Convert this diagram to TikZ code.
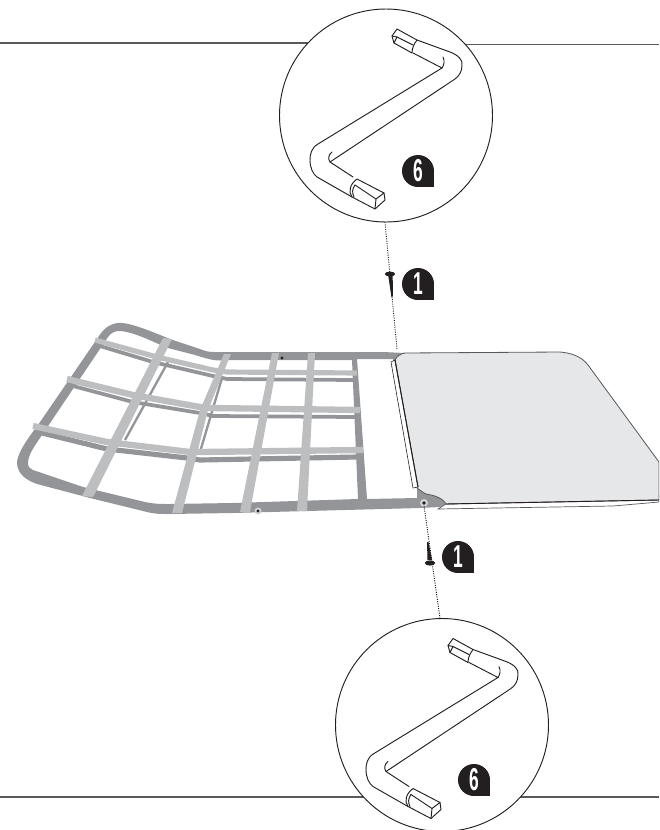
\documentclass[tikz,border=0pt]{standalone}
\usepackage{xcolor}
\usepackage{fontspec}
\usepackage{tikz}
\newfontfamily\badgefont[FakeStretch=0.55]{Liberation Sans}
\definecolor{mydark}{RGB}{35,31,32}
\definecolor{myrule}{RGB}{88,89,91}
\definecolor{mygray}{RGB}{147,149,152}
\definecolor{mylight}{RGB}{188,190,192}
\definecolor{myfabric}{RGB}{230,231,232}
\definecolor{myhalo}{RGB}{209,211,212}
\tikzset{
  rule/.style={color=myrule, line width=1.1pt},
  keyline/.style={color=mydark, line width=0.8pt, line join=round, line cap=round},
  dotline/.style={color=mydark, line width=0.8pt, dash pattern=on 0.9pt off 1.1pt},
  strapbig/.style={color=mylight, line width=5.4pt, line join=round},
  strapmid/.style={color=mylight, line width=4.4pt, line join=round},
  darkbig/.style={color=mygray, line width=4.4pt, line join=round},
  darkmid/.style={color=mygray, line width=3.2pt, line join=round},
  badge/.style={circle, fill=mydark, text=white, minimum size=0.96cm, inner sep=0pt,
    font=\badgefont\bfseries\fontsize{27}{27}\selectfont},
  hexkey/.pic={
    \draw[keyline, fill=white] (386,115.5) circle (106.5);
    % long bar, upper side
    \draw[keyline] (417,40) -- (450,52) .. controls (458,55) and (463,60) .. (462,65)
      .. controls (462,72) and (459,76) .. (455,79) -- (330,162) -- (353,177);
    \draw[keyline] (332,152) .. controls (328,155) and (328,159) .. (330,162);
    % long bar, lower side
    \draw[keyline] (413,53) -- (442,68) -- (318,144)
      .. controls (311,148) and (310,155) .. (310,160)
      .. controls (310,168) and (313,174) .. (317,177) -- (352,197);
    \draw[keyline] (443,57) .. controls (445,61) and (444,65) .. (442,68);
    % lower tip
    \draw[keyline, fill=white] (357,179) -- (384,193) -- (385,200) -- (375,209) -- (352,197)
      .. controls (348,192) and (350,184) .. (357,179) -- cycle;
    \draw[keyline] (355,185) -- (376,199) -- (384,193);
    \draw[keyline] (376,199) -- (375,209);
    \draw[keyline] (355,185) .. controls (352,189) and (352,193) .. (354,197);
    % upper tip
    \draw[keyline, fill=white] (397,29) -- (417,40)
      .. controls (414,44) and (412,48) .. (412,53) -- (394,43) -- (392,36) -- cycle;
    \draw[keyline] (392,36) -- (397,37) -- (413,45);
    \draw[keyline] (397,37) -- (394,43);
  }
}

\begin{document}
\begin{tikzpicture}[x=0.03cm, y=-0.03cm]
  \clip (0,0) rectangle (659,830);

  % Page rules
  \draw[rule] (0,43) -- (310,43);
  \draw[rule] (465,44.5) -- (659,44.5);
  \draw[rule] (0,797) -- (370,797);
  \draw[rule] (515,797) -- (659,797);

  % Frame
  \fill[mygray, even odd rule]
    (405,353) -- (383,352) -- (233,352) -- (214,352)
    .. controls (208,352) and (205,351) .. (200,349) -- (170,339)
    .. controls (160,335) and (135,324) .. (122,323)
    .. controls (112,322) and (104,328) .. (99,336) -- (38,425)
    .. controls (28,438) and (18,452) .. (17,462)
    .. controls (17,474) and (26,480) .. (37,484) -- (90,498) -- (147,512)
    .. controls (155,514) and (160,514) .. (170,514) -- (233,513) -- (420,508)
    -- (440,507) -- (446,504) -- (440,490) -- cycle
    (352,360) -- (233,360) -- (220,360.5)
    .. controls (212,360.5) and (205,358) .. (195,355) -- (168,348)
    .. controls (155,343) and (135,332) .. (120,331)
    .. controls (115,331) and (112,332) .. (108,337) -- (40,438)
    .. controls (33,448) and (28,456) .. (28,463)
    .. controls (28,467) and (30,469) .. (33,470) -- (83,487) -- (145,502)
    .. controls (155,504) and (160,504) .. (170,504) -- (233,503) -- (358,499) -- cycle
    (357,359) -- (393,359) -- (417,488) -- (417,498) -- (367,499) -- cycle;

  % Shadow strips
  \draw[darkmid] (100,346) -- (153,362) -- (213,376) -- (227,379) -- (353,380);
  \draw[darkmid] (73,386) -- (133,402) -- (200,413) -- (213,416) -- (355,417);
  \draw[darkbig] (42,433) -- (107,449) -- (187,458) -- (200,460) -- (357,457);
  \draw[color=mygray, line width=2pt] (168,362) -- (125,440);
  \draw[color=mygray, line width=2pt] (222,378) -- (200,452);

  % Straps
  \draw[strapmid] (95,340) -- (157,357) -- (213,370) -- (227,372) -- (357,373);
  \draw[strapbig] (67,379) -- (133,395) -- (200,407) -- (210,408) -- (360,410);
  \draw[strapbig] (33,426) -- (107,442) -- (190,452) -- (200,452) -- (363,450);
  \fill[mylight] (163,338) -- (172,339) -- (93,497) -- (82,496) -- cycle;
  \fill[mylight] (224,354) -- (231,354) -- (208,410) -- (182,513) -- (172,513) -- (200,410) -- cycle;
  \fill[mylight] (272,353) -- (279,353) -- (250,512) -- (240,512) -- cycle;
  \fill[mylight] (308,353) -- (315,353) -- (307,511) -- (297,511) -- cycle;

  % Fabric
  \draw[color=myrule, line width=0.6pt, fill=white] (438,509) -- (613,506) -- (659,502) -- (659,495) -- (446,504) -- cycle;
  \draw[color=myrule, line width=0.7pt, fill=myfabric]
    (395,360) .. controls (397,356) and (400,354) .. (405,353) -- (560,352)
    .. controls (571,353) and (581,356) .. (588,365) -- (659,462) -- (659,500)
    -- (446,504) .. controls (442,497) and (432,495) .. (426,494)
    .. controls (422,492) and (420,490) .. (417,488) -- cycle;
  \draw[color=mydark, line width=0.8pt] (446,504) -- (659,500);
  \draw[color=mydark, line width=0.5pt, fill=white] (391,362) -- (395,360) -- (418,487) -- (413,488) -- cycle;
  \draw[color=mydark, line width=0.9pt] (395,360) -- (418,487);

  % Fixing points
  \fill[mydark] (282,358) circle (1.6);
  \fill[myhalo] (258,511) circle (3.5);
  \fill[mydark] (258,511) circle (1.6);
  \fill[myhalo] (424,503) circle (4);
  \fill[mydark] (424,503) circle (1.8);

  % Guides
  \coordinate (topkey) at (385,222);
  \coordinate (topfix) at (397,349);
  \coordinate (lowfix) at (424,506);
  \coordinate (lowkey) at (440,618);
  \draw[dotline] (topkey) -- (topfix);
  \draw[dotline] (lowfix) -- (lowkey);

  % Screws
  \fill[mydark] (388.3,276) -- (392.7,276) -- (392.9,296) -- (391.5,297.5) -- cycle;
  \fill[mydark] (390,274) ellipse (5.2 and 2.4);
  \fill[mydark] (427,542) -- (428.5,542) -- (432,560) -- (427.5,560) -- cycle;
  \fill[mydark] (430,563) ellipse (5.2 and 2.6);

  % Tools
  \pic at (0,0) {hexkey};
  \pic at (56,609.5) {hexkey};

  % Badges
  \foreach \badgename/\bx/\by/\digit in {screwtop/418/284/1, screwlow/458/557/1, keytop/418/171/6, keylow/474/780/6}{
    \fill[mydark] (\bx,\by) rectangle ++(16,16);
    \node[badge] (\badgename) at (\bx,\by) {\digit};
  }
\end{tikzpicture}
\end{document}
